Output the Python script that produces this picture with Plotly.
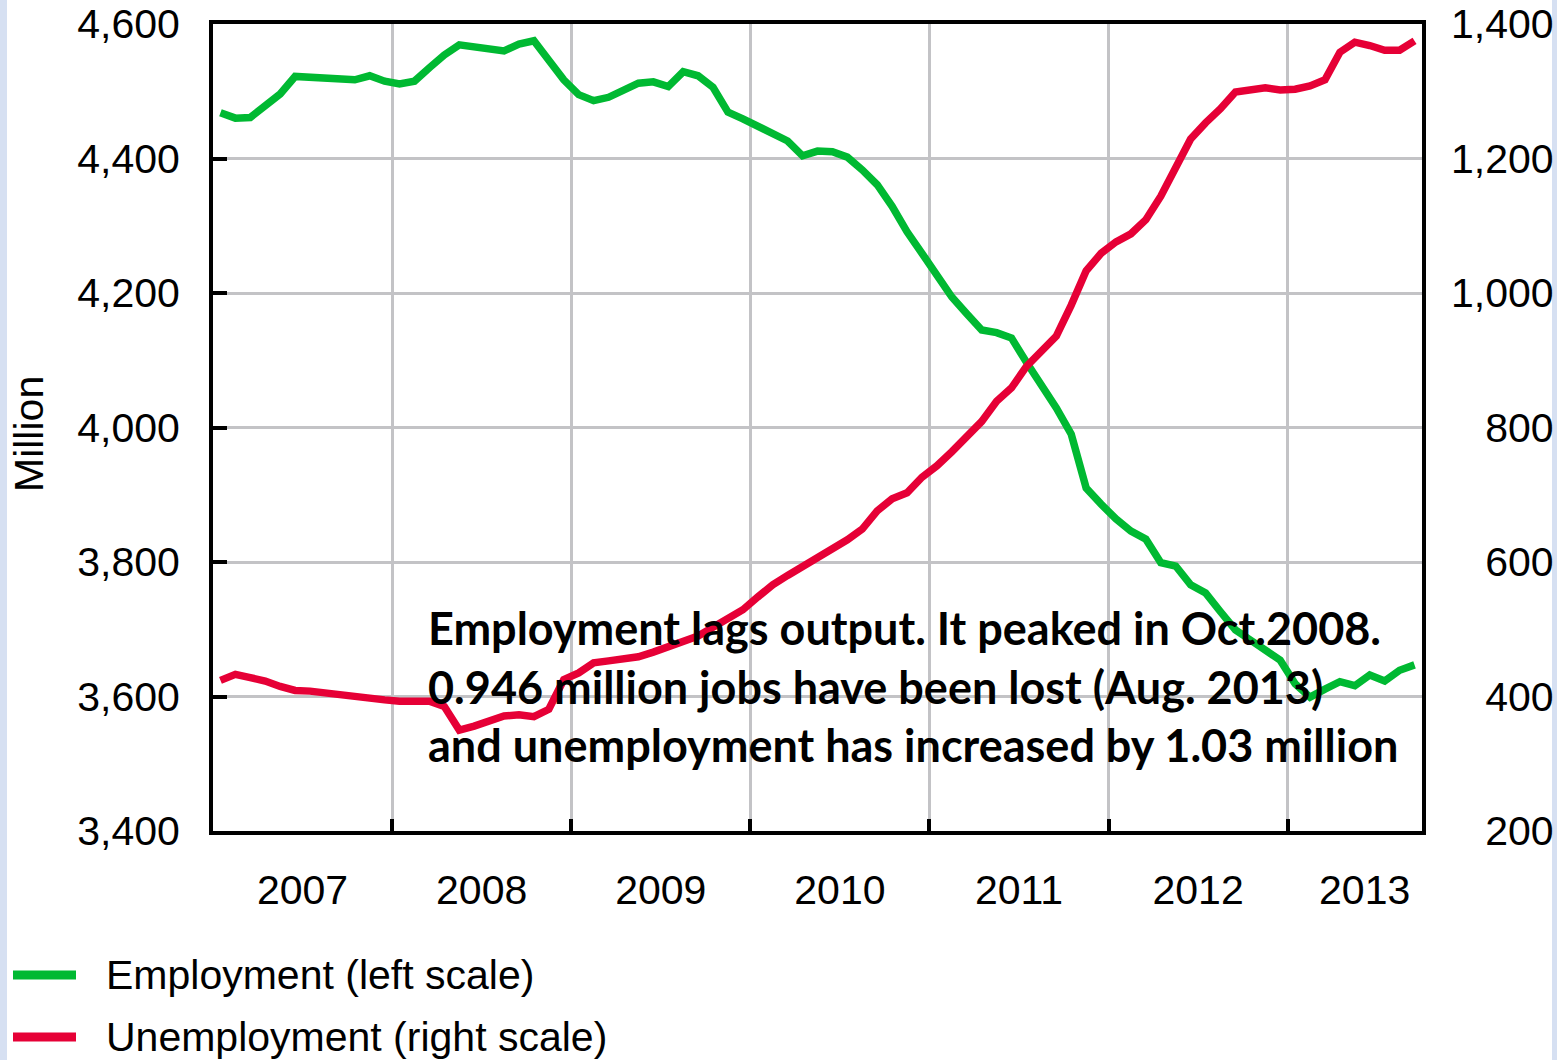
import plotly.graph_objects as go

# ---------------- data (monthly, Jan 2007 - Sep 2013) ----------------
years = [2007, 2008, 2009, 2010, 2011, 2012, 2013]
year_labels = ["2007", "2008", "2009", "2010", "2011", "2012", "2013"]
months_in_2013 = 9

employment = [
    4468, 4460, 4461, 4477, 4496, 4522, 4521, 4520, 4518, 4517, 4523, 4515,  # 2007
    4511, 4515, 4535, 4554, 4569, 4566, 4563, 4560, 4570, 4575, 4546, 4517,  # 2008
    4495, 4486, 4491, 4501, 4512, 4514, 4507, 4529, 4523, 4506, 4469, 4459,  # 2009
    4448, 4434, 4426, 4404, 4411, 4410, 4402, 4383, 4361, 4329, 4291, 4259,  # 2010
    4224, 4194, 4169, 4145, 4141, 4133, 4097, 4065, 4029, 3990, 3910, 3886,  # 2011
    3864, 3846, 3834, 3799, 3794, 3766, 3754, 3726, 3699, 3684, 3669, 3654,  # 2012
    3619, 3599, 3611, 3622, 3616, 3632, 3623, 3639, 3647,                    # 2013
]

unemployment = [
    424, 433, 428, 423, 415, 409, 408, 405, 402, 400, 397, 395,              # 2007
    393, 393, 393, 385, 350, 356, 365, 371, 373, 370, 381, 425,              # 2008
    435, 450, 453, 456, 459, 466, 474, 481, 490, 503, 515, 529,              # 2009
    548, 566, 580, 593, 607, 620, 633, 649, 676, 694, 703, 726,              # 2010
    743, 764, 786, 809, 839, 859, 891, 912, 936, 982, 1033, 1059,            # 2011
    1076, 1088, 1109, 1144, 1187, 1229, 1253, 1274, 1299, 1303, 1305, 1302,  # 2012
    1303, 1308, 1317, 1358, 1373, 1368, 1361, 1361, 1375,                    # 2013
]

left_ticks = [3400, 3600, 3800, 4000, 4200, 4400, 4600]
right_ticks = [200, 400, 600, 800, 1000, 1200, 1400]

y_title = "Million"
annotation_lines = [
    "Employment lags output. It peaked in Oct.2008.",
    "0.946 million jobs have been lost (Aug. 2013)",
    "and unemployment has increased by 1.03 million",
]
legend_names = ["Employment (left scale)", "Unemployment (right scale)"]

# ---------------- styling ----------------
GREEN = "#00b932"
RED = "#e60036"
GRID = "#c3c3c6"
STRIP = "#d6e0f2"
TICK_FONT = dict(family="Liberation Sans, Arial, sans-serif", size=41, color="black")

W, H = 1557, 1060
ML, MR, MT, MB = 213, 135, 24, 229
PW, PH = W - ML - MR, H - MT - MB


def px(xp):
    return (xp - ML) / PW


def py(yp):
    return (H - MB - yp) / PH


# x positions: middle of each month, in fractional years
x = [years[0] + (i + 0.5) / 12 for i in range(len(employment))]
x_end = years[-1] + months_in_2013 / 12
label_pos = [y + 0.5 for y in years[:-1]] + [years[-1] + 0.43]

fig = go.Figure()
fig.add_trace(go.Scatter(x=x, y=employment, mode="lines", name=legend_names[0],
                         line=dict(color=GREEN, width=7.5), showlegend=False))
fig.add_trace(go.Scatter(x=x, y=unemployment, mode="lines", name=legend_names[1],
                         line=dict(color=RED, width=7.5), yaxis="y2", showlegend=False))

right_text = []
for v in right_ticks:
    s = f"{v:,}"
    pad = "\u00a0" * (3 if len(s) == 3 else 0)
    right_text.append(pad + s)

fig.update_layout(
    width=W, height=H,
    margin=dict(l=ML, r=MR, t=MT, b=MB, autoexpand=False),
    paper_bgcolor="white", plot_bgcolor="white",
    showlegend=False,
    xaxis=dict(
        range=[years[0], x_end],
        tickmode="array", tickvals=label_pos, ticktext=year_labels,
        ticks="", showgrid=False, zeroline=False,
        showline=True, linecolor="black", linewidth=4, mirror=True,
        tickfont=TICK_FONT, ticklabelstandoff=20,
        minor=dict(tickmode="array", tickvals=years[1:], ticks="inside", ticklen=12,
                   tickwidth=4, tickcolor="black", showgrid=True,
                   gridcolor=GRID, gridwidth=3),
    ),
    yaxis=dict(
        range=[left_ticks[0], left_ticks[-1]],
        tickmode="array", tickvals=left_ticks, tickformat=",",
        ticks="inside", ticklen=14, tickwidth=4, tickcolor="black",
        showgrid=True, gridcolor=GRID, gridwidth=3, zeroline=False,
        showline=True, linecolor="black", linewidth=4, mirror=True,
        tickfont=TICK_FONT, ticklabelstandoff=21,
    ),
    yaxis2=dict(
        range=[right_ticks[0], right_ticks[-1]],
        overlaying="y", side="right",
        tickmode="array", tickvals=right_ticks, ticktext=right_text,
        ticks="", showgrid=False, zeroline=False, showline=False,
        tickfont=TICK_FONT, ticklabelstandoff=28,
    ),
)

# y-axis title (rotated)
fig.add_annotation(xref="paper", yref="paper", x=px(29), y=py(434),
                   xanchor="center", yanchor="middle", showarrow=False,
                   textangle=-90, text=y_title, font=TICK_FONT)

# annotation text
fig.add_annotation(
    xref="paper", yref="paper", x=px(426), y=py(686),
    xanchor="left", yanchor="middle", align="left", showarrow=False,
    text="<br>".join(f"<b>{t}</b>" for t in annotation_lines),
    font=dict(family="Lato, Open Sans, sans-serif", size=45, color="black"),
)

# manual legend
legend_rows = [(975, GREEN), (1037, RED)]
for (yrow, col), name in zip(legend_rows, legend_names):
    fig.add_shape(type="line", xref="paper", yref="paper",
                  x0=px(13), x1=px(76), y0=py(yrow), y1=py(yrow),
                  line=dict(color=col, width=9))
    fig.add_annotation(xref="paper", yref="paper", x=px(104), y=py(yrow),
                       xanchor="left", yanchor="middle", showarrow=False,
                       text=name, font=TICK_FONT)

# light blue side strips of the screenshot
fig.add_shape(type="rect", xref="paper", yref="paper", layer="below",
              x0=px(0), x1=px(7), y0=py(H), y1=py(0),
              line=dict(width=0), fillcolor=STRIP)
fig.add_shape(type="rect", xref="paper", yref="paper", layer="below",
              x0=px(1552), x1=px(W), y0=py(H), y1=py(0),
              line=dict(width=0), fillcolor=STRIP)

fig.write_html(
    "out.html",
    config={"displayModeBar": False},
    post_script="document.body.style.margin='0';document.body.style.overflow='hidden';",
)
